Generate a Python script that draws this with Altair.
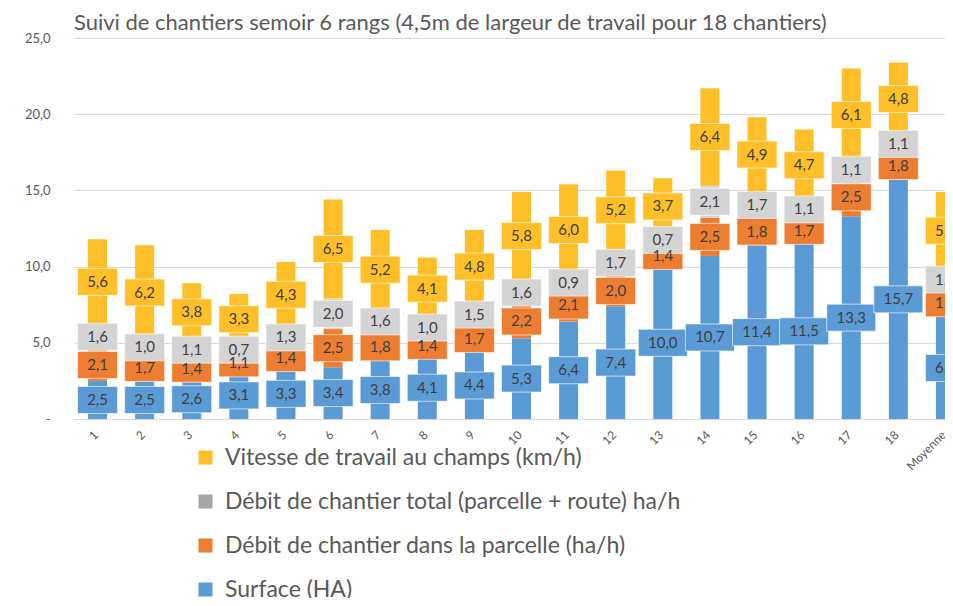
import altair as alt
import pandas as pd

categories = [str(i) for i in range(1, 19)] + ["Moyenne"]
surface = [2.5, 2.5, 2.6, 3.1, 3.3, 3.4, 3.8, 4.1, 4.4, 5.3, 6.4, 7.4, 10.0, 10.7, 11.4, 11.5, 13.3, 15.7, 6.7]
parcelle = [2.1, 1.7, 1.4, 1.1, 1.4, 2.5, 1.8, 1.4, 1.7, 2.2, 2.1, 2.0, 1.4, 2.5, 1.8, 1.7, 2.5, 1.8, 1.8]
total = [1.6, 1.0, 1.1, 0.7, 1.3, 2.0, 1.6, 1.0, 1.5, 1.6, 0.9, 1.7, 0.7, 2.1, 1.7, 1.1, 1.1, 1.1, 1.3]
vitesse = [5.6, 6.2, 3.8, 3.3, 4.3, 6.5, 5.2, 4.1, 4.8, 5.8, 6.0, 5.2, 3.7, 6.4, 4.9, 4.7, 6.1, 4.8, 5.1]

series_names = [
    "Surface (HA)",
    "Débit de chantier dans la parcelle (ha/h)",
    "Débit de chantier total (parcelle + route) ha/h",
    "Vitesse de travail au champs (km/h)",
]
bar_colors = ["#5B9BD5", "#ED7D31", "#D4D4D4", "#FFBF28"]
legend_order = [series_names[3], series_names[2], series_names[1], series_names[0]]
legend_colors = ["#FFBF28", "#A5A5A5", "#ED7D31", "#5B9BD5"]

title_text = "Suivi de chantiers semoir 6 rangs (4,5m de largeur de travail pour 18 chantiers)"

rows = []
for k, (name, vals) in enumerate(zip(series_names, [surface, parcelle, total, vitesse])):
    for c, v in zip(categories, vals):
        rows.append({"cat": c, "serie": name, "ordre": k, "valeur": v})
df = pd.DataFrame(rows)

FONT = "Lato"

base = alt.Chart(df).transform_stack(
    stack="valeur",
    groupby=["cat"],
    as_=["y0", "y1"],
    sort=[alt.SortField("ordre", order="ascending")],
).transform_calculate(
    mid="(datum.y0 + datum.y1) / 2",
    label="replace(format(datum.valeur, '.1f'), '.', ',')",
).transform_calculate(
    shp="length(datum.label) > 3 ? 'M-1.225,-0.675H1.225V0.675H-1.225Z' : 'M-1,-0.675H1V0.675H-1Z'"
)

x_enc = alt.X(
    "cat:N",
    sort=categories,
    scale=alt.Scale(paddingInner=0, paddingOuter=0, range=[0, 895]),
    axis=alt.Axis(
        title=None,
        labelAngle=-45,
        ticks=False,
        domainColor="#D9D9D9",
        labelColor="#595959",
        labelFont=FONT,
        labelFontSize=12,
        labelPadding=10,
        labelOffset=-5,
        grid=False,
    ),
)

y_scale = alt.Scale(domain=[0, 25])
color_enc = alt.Color("serie:N", scale=alt.Scale(domain=series_names, range=bar_colors), legend=None)

bars = base.mark_bar(size=19).encode(
    x=x_enc,
    y=alt.Y(
        "y0:Q",
        scale=y_scale,
        axis=alt.Axis(
            values=[0, 5, 10, 15, 20, 25],
            labelExpr="datum.value == 0 ? '-' : replace(format(datum.value, '.1f'), '.', ',')",
            title=None,
            ticks=False,
            domain=False,
            gridColor="#D9D9D9",
            labelColor="#595959",
            labelFont=FONT,
            labelFontSize=13,
            labelPadding=24,
        ),
    ),
    y2="y1:Q",
    color=color_enc,
)

boxes = base.mark_point(
    filled=True, opacity=1, size=1600, stroke="#FFFFFF", strokeWidth=1, strokeOpacity=0.6
).encode(
    x=x_enc,
    y=alt.Y("mid:Q", scale=y_scale),
    color=color_enc,
    shape=alt.Shape("shp:N", scale=None),
)

texts = base.mark_text(font=FONT, fontSize=15, color="#404040").encode(
    x=x_enc,
    y=alt.Y("mid:Q", scale=y_scale),
    text="label:N",
)

legend_layer = base.mark_point(opacity=0, filled=True).encode(
    x=x_enc,
    y=alt.Y("mid:Q", scale=y_scale),
    fill=alt.Fill(
        "serie:N",
        scale=alt.Scale(domain=legend_order, range=legend_colors),
        legend=alt.Legend(
            title=None,
            orient="none",
            legendX=120,
            legendY=408,
            direction="vertical",
            symbolType="square",
            symbolSize=196,
            symbolOpacity=1,
            symbolStrokeWidth=0,
            labelFont=FONT,
            labelFontSize=23,
            labelColor="#595959",
            labelOffset=8,
            rowPadding=20,
            labelLimit=800,
        ),
    ),
)

chart = alt.layer(bars, boxes, texts, legend_layer).properties(
    width=871,
    height=381,
    title=alt.TitleParams(
        title_text,
        anchor="start",
        frame="group",
        font=FONT,
        fontSize=22,
        fontWeight="normal",
        color="#595959",
        offset=6,
        dy=9,
    ),
    autosize=alt.AutoSizeParams(type="none"),
    padding={"left": 66, "top": 30, "right": 0, "bottom": 179},
    background="#FFFFFF",
).configure_view(stroke=None)

chart.save("out.html", embed_options={"renderer": "svg", "actions": False})
